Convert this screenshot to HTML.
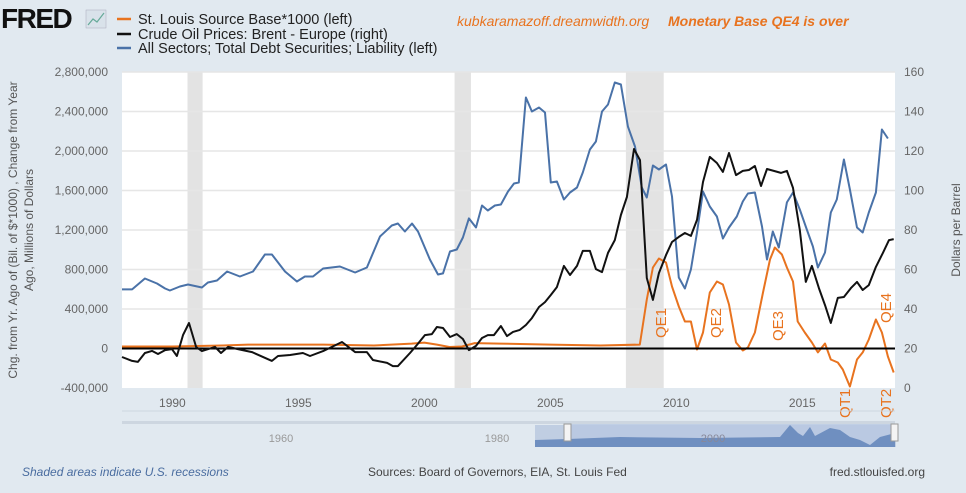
<!DOCTYPE html>
<html><head><meta charset="utf-8">
<style>
body{margin:0;width:966px;height:493px;overflow:hidden;background:#e1e9f0;font-family:"Liberation Sans",sans-serif;}
svg{display:block}
</style></head>
<body>
<svg id="c" width="966" height="493" xmlns="http://www.w3.org/2000/svg">
<rect x="0" y="0" width="966" height="493" fill="#e1e9f0"/>
<g>
<text x="1" y="28" font-size="28" font-weight="bold" fill="#111" font-family="Liberation Sans, sans-serif" letter-spacing="-1.5">FRED</text>
<rect x="86" y="10" width="20" height="18" fill="#d9e2ea" stroke="#aab" stroke-width="0.5"/>
<polyline points="88,25 93,19 97,22 104,13" fill="none" stroke="#6a9" stroke-width="1.2"/>
</g>
<g font-size="14.5" fill="#222">
<g><line x1="117" y1="19" x2="131" y2="19" stroke="#e8731f" stroke-width="2.5"/><text x="138" y="24">St. Louis Source Base*1000 (left)</text></g>
<g><line x1="117" y1="34" x2="131" y2="34" stroke="#111" stroke-width="2.5"/><text x="138" y="39">Crude Oil Prices: Brent - Europe (right)</text></g>
<g><line x1="117" y1="48" x2="131" y2="48" stroke="#4a72a8" stroke-width="2.5"/><text x="138" y="53">All Sectors; Total Debt Securities; Liability (left)</text></g>
</g>
<text x="457" y="26" font-size="14" font-style="italic" fill="#e8731f">kubkaramazoff.dreamwidth.org</text>
<text x="668" y="26" font-size="14" font-style="italic" font-weight="bold" fill="#e8731f">Monetary Base QE4 is over</text>
<rect x="122" y="72" width="773" height="316" fill="#fff"/>
<g id="rec"></g><g id="grid"></g><g id="series"></g><g id="axes"></g>
<g font-size="12" fill="#555" text-anchor="middle">
<text transform="translate(17,230) rotate(-90)">Chg. from Yr. Ago of (Bil. of $*1000) , Change from Year</text>
<text transform="translate(33,230) rotate(-90)">Ago, Millions of Dollars</text>
</g>
<text transform="translate(960,230) rotate(-90)" font-size="12" fill="#555" text-anchor="middle">Dollars per Barrel</text>
<g font-size="15" fill="#e8731f">
<text transform="translate(666,338) rotate(-90)">QE1</text>
<text transform="translate(721,338) rotate(-90)">QE2</text>
<text transform="translate(783,341) rotate(-90)">QE3</text>
<text transform="translate(891,323) rotate(-90)">QE4</text>
<text transform="translate(850,418) rotate(-90)">QT1</text>
<text transform="translate(891,418) rotate(-90)">QT2</text>
</g>
<line x1="122" y1="411" x2="895" y2="411" stroke="#cdd6e0"/>
<g>
<rect x="122" y="421" width="773" height="3" fill="#cdd6e0"/>
<text x="281" y="442" font-size="11" fill="#999" text-anchor="middle">1960</text>
<text x="497" y="442" font-size="11" fill="#999" text-anchor="middle">1980</text>
<rect x="535" y="425" width="361" height="22" fill="#9fb3d4" opacity="0.5"/>
<rect x="568" y="424" width="327" height="23" fill="#b8c8e2" opacity="0.8"/>
<path d="M535,440 L568,439 L620,437 L700,438 L780,437 L790,425 L798,433 L803,436 L810,427 L815,436 L830,428 L840,430 L850,437 L860,440 L870,445 L880,437 L895,433 L895,447 L535,447Z" fill="#6f8fc0"/>
<text x="713" y="442" font-size="11" fill="#889" text-anchor="middle">2000</text>
<rect x="564" y="424" width="7" height="17" fill="#f4f4f4" stroke="#999"/>
<rect x="891" y="424" width="7" height="17" fill="#f4f4f4" stroke="#999"/>
</g>
<text x="22" y="476" font-size="12" font-style="italic" fill="#4a6da0">Shaded areas indicate U.S. recessions</text>
<text x="368" y="476" font-size="12" fill="#444">Sources: Board of Governors, EIA, St. Louis Fed</text>
<text x="925" y="476" font-size="12" fill="#444" text-anchor="end">fred.stlouisfed.org</text>
</svg>
<script>
const leftTicks=[-400,0,400,800,1200,1600,2000,2400,2800];
const leftTickLabels=["-400,000","0","400,000","800,000","1,200,000","1,600,000","2,000,000","2,400,000","2,800,000"];
const rightTicks=[0,20,40,60,80,100,120,140,160];
const xTicks=[1990,1995,2000,2005,2010,2015];
const recessions=[[1990.6,1991.2],[2001.2,2001.85],[2008.0,2009.5]];
const debtYears=[1988.00,1988.40,1988.91,1989.39,1989.71,1989.90,1990.30,1990.62,1991.17,1991.41,1991.77,1992.17,1992.68,1993.20,1993.67,1993.95,1994.47,1994.94,1995.26,1995.58,1995.98,1996.65,1997.25,1997.72,1998.24,1998.71,1998.95,1999.23,1999.51,1999.75,2000.22,2000.54,2000.74,2001.02,2001.29,2001.53,2001.77,2002.05,2002.29,2002.52,2002.80,2003.04,2003.32,2003.56,2003.75,2004.03,2004.27,2004.55,2004.79,2005.02,2005.26,2005.54,2005.78,2006.06,2006.29,2006.57,2006.81,2007.05,2007.29,2007.56,2007.80,2008.08,2008.36,2008.63,2008.83,2009.07,2009.31,2009.59,2009.83,2010.10,2010.34,2010.58,2010.82,2011.06,2011.33,2011.61,2011.85,2012.09,2012.40,2012.64,2012.84,2013.12,2013.40,2013.60,2013.83,2014.07,2014.39,2014.63,2014.90,2015.18,2015.42,2015.62,2015.90,2016.13,2016.37,2016.65,2016.89,2017.17,2017.40,2017.64,2017.92,2018.16,2018.40];
const debtValues=[598,598,709,658,608,587,628,648,618,668,689,780,729,780,952,952,780,678,729,729,810,830,770,820,1134,1246,1266,1185,1266,1185,901,749,760,982,1003,1124,1317,1225,1448,1397,1448,1458,1590,1671,1681,2542,2400,2441,2390,1681,1691,1509,1580,1630,1782,2015,2096,2400,2471,2694,2673,2248,2046,1630,1529,1853,1813,1863,1539,719,608,800,1175,1590,1438,1337,1114,1225,1337,1489,1570,1580,1235,901,1185,1023,1479,1580,1408,1205,1033,820,972,1377,1509,1914,1610,1225,1175,1377,1580,2218,2127];
const oilYears=[1988.00,1988.40,1988.63,1988.91,1989.19,1989.43,1989.71,1989.98,1990.18,1990.42,1990.66,1990.94,1991.17,1991.69,1991.93,1992.21,1992.60,1993.16,1993.95,1994.19,1994.67,1995.18,1995.46,1995.98,1996.73,1997.25,1997.72,1997.96,1998.52,1998.75,1998.95,1999.43,1999.71,2000.02,2000.30,2000.50,2000.74,2001.02,2001.29,2001.53,2001.77,2002.05,2002.29,2002.52,2002.76,2003.04,2003.28,2003.52,2003.79,2004.03,2004.27,2004.55,2004.79,2005.02,2005.26,2005.54,2005.78,2006.06,2006.29,2006.57,2006.81,2007.05,2007.29,2007.56,2007.80,2008.04,2008.32,2008.56,2008.83,2009.07,2009.31,2009.59,2009.83,2010.10,2010.34,2010.58,2010.82,2011.06,2011.33,2011.61,2011.85,2012.09,2012.37,2012.64,2012.88,2013.12,2013.36,2013.60,2013.87,2014.15,2014.39,2014.63,2014.90,2015.14,2015.38,2015.66,2015.90,2016.13,2016.41,2016.65,2016.93,2017.17,2017.40,2017.64,2017.92,2018.20,2018.44,2018.63];
const oilValues=[15.7,13.7,13.2,17.7,18.8,17.2,19.2,19.7,16.2,26.8,32.9,20.8,18.7,20.8,17.7,20.8,19.7,18.2,13.7,16.2,16.7,17.7,16.2,18.7,23.3,18.2,18.2,14.2,12.7,11.1,11.1,17.7,21.8,26.8,27.3,30.9,30.4,25.8,27.3,24.8,19.2,21.3,25.3,26.8,26.8,31.4,26.3,28.4,29.4,31.9,35.4,41.0,43.5,47.1,51.1,61.8,57.2,61.8,69.4,69.4,60.2,58.7,68.4,74.9,87.6,96.7,121.0,115.4,55.7,44.6,58.2,67.3,73.9,76.5,78.5,77.0,85.1,104.3,117.0,113.9,109.4,119.0,107.8,109.9,110.4,112.4,102.3,110.9,109.9,108.9,109.9,101.3,80.0,53.7,61.8,50.6,42.0,32.9,45.6,46.1,50.6,53.7,49.6,52.1,61.3,68.4,74.9,75.4];
const baseYears=[1988.0,1990.0,1992.0,1993.0,1996.0,1998.0,1999.5,2000.0,2000.5,2001.0,2001.5,2002.0,2003.0,2005.0,2007.0,2008.55,2008.83,2009.07,2009.31,2009.59,2009.83,2010.10,2010.34,2010.58,2010.82,2011.06,2011.33,2011.61,2011.85,2012.09,2012.37,2012.64,2012.84,2013.12,2013.44,2013.72,2013.91,2014.19,2014.39,2014.63,2014.82,2015.10,2015.38,2015.62,2015.90,2016.13,2016.41,2016.61,2016.89,2017.17,2017.40,2017.64,2017.92,2018.16,2018.40,2018.63];
const baseValues=[20,20,30,40,40,30,50,60,40,15,20,55,50,40,30,40,496,820,911,871,628,425,273,273,-10,162,567,678,648,446,61,-20,10,162,567,901,1023,952,820,678,273,162,61,-40,51,-111,-142,-213,-385,-111,-40,91,294,162,-81,-243];

const X0=122,X1=895,Y0=388,Y1=72;
function xs(yr){return X0+(yr-1988)/(2018.68-1988)*(X1-X0);}
function yl(vk){return Y0-(vk+400)/3200*(Y0-Y1);}
function yr(v){return Y0-v/160*(Y0-Y1);}
const NS="http://www.w3.org/2000/svg";
function mk(t,a,p){const e=document.createElementNS(NS,t);for(const k in a)e.setAttribute(k,a[k]);p.appendChild(e);return e;}
const rec=document.getElementById('rec'),grid=document.getElementById('grid'),ser=document.getElementById('series'),ax=document.getElementById('axes');
recessions.forEach((r,i)=>{const e=mk('rect',{x:xs(r[0]),y:Y1,width:xs(r[1])-xs(r[0]),height:Y0-Y1,fill:'#e3e3e3'},rec);

});
leftTicks.forEach((t,i)=>{const y=yl(t);
if(t!==-400&&t!==0){const g=mk('line',{x1:X0,x2:X1,y1:y,y2:y,stroke:'#e6e6e6','stroke-width':1.5},grid);

}
const l=mk('text',{x:108,y:y+4,'font-size':12,fill:'#666','text-anchor':'end'},ax);l.textContent=leftTickLabels[i];

});
rightTicks.forEach(t=>{const l=mk('text',{x:904,y:yr(t)+4,'font-size':12,fill:'#666'},ax);l.textContent=t;

});
xTicks.forEach(t=>{const l=mk('text',{x:xs(t),y:407,'font-size':12,fill:'#666','text-anchor':'middle'},ax);l.textContent=t;

});
function line(xa,ya,fy,col,name){const d=xa.map((x,i)=>(i?'L':'M')+xs(x).toFixed(1)+','+fy(ya[i]).toFixed(1)).join('');
const p=mk('path',{d:d,fill:'none',stroke:col,'stroke-width':2,'stroke-linejoin':'round'},ser);

}
line(debtYears,debtValues,yl,'#4a72a8','debt-securities-line');
line(baseYears,baseValues,yl,'#e8731f','source-base-line');
const z=mk('line',{x1:X0,x2:X1,y1:yl(0),y2:yl(0),stroke:'#000','stroke-width':2},ser);


line(oilYears,oilValues,yr,'#111','brent-oil-line');
</script>
</body></html>
